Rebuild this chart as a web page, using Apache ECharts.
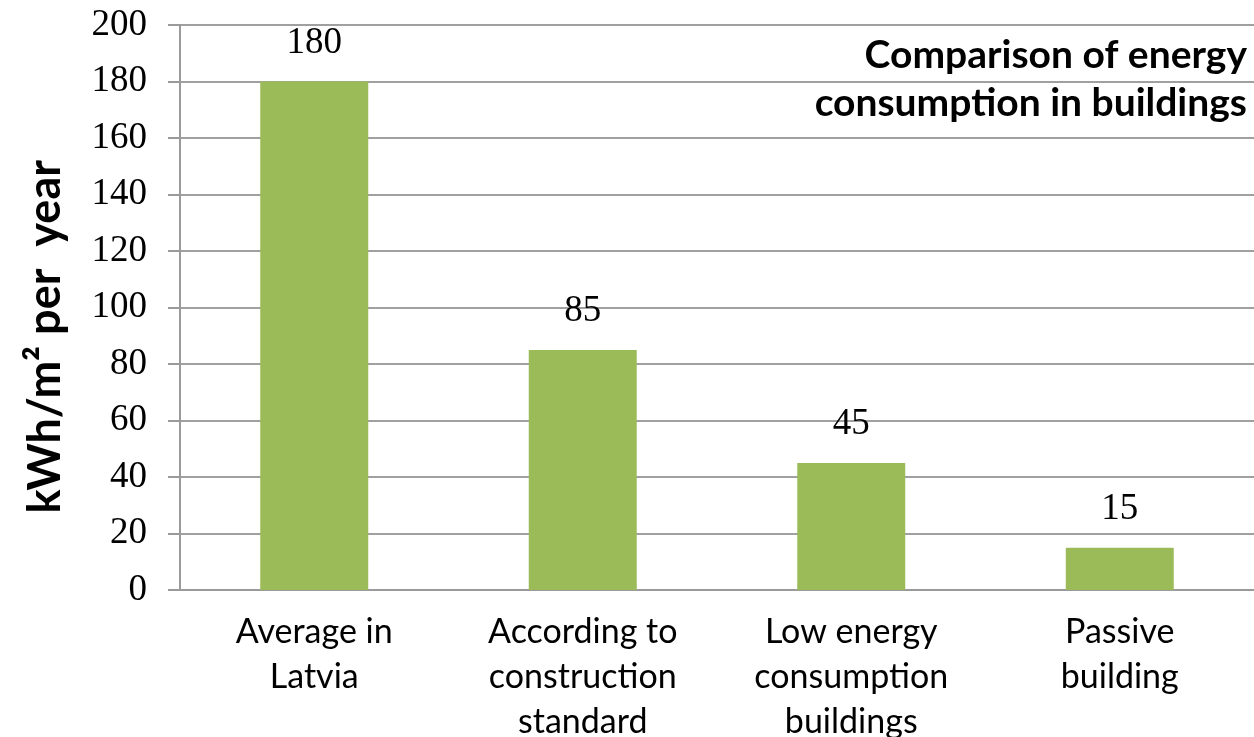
<html>
<head>
    <meta charset="utf-8" />
    <title>Energy consumption in buildings</title>
    <script src="https://cdn.jsdelivr.net/npm/echarts@6/dist/echarts.min.js"></script>
    <style>
        body { margin: 0; background: #fff; }
        #chart { width: 1254px; height: 737px; }
    </style>
</head>
<body>
    <div id="chart"></div>
    <script type="text/javascript">
        // chart data
        var categories = ['Average in\nLatvia', 'According to\nconstruction\nstandard', 'Low energy\nconsumption\nbuildings', 'Passive\nbuilding'];
        var consumption = [180, 85, 45, 15];
        var yTicks = [0, 200, 20]; // min, max, step

        var chart = echarts.init(document.getElementById('chart'));
        var option = {
            animation: false,
            grid: { left: 180, right: 0, top: 25, height: 565, outerBoundsMode: 'none' },
            graphic: [
                {
                    type: 'text',
                    right: 7,
                    top: 31,
                    style: {
                        text: 'Comparison of energy\nconsumption in buildings',
                        font: 'bold 39px Lato',
                        fill: '#000',
                        textAlign: 'right',
                        lineHeight: 48
                    }
                },
                {
                    type: 'text',
                    left: 23,
                    top: 160,
                    rotation: Math.PI / 2,
                    style: {
                        text: 'kWh/m² per  year',
                        font: 'bold 45px Lato',
                        fill: '#000'
                    }
                }
            ],
            xAxis: {
                type: 'category',
                data: categories,
                axisLine: { lineStyle: { color: '#9a9a9a', width: 2 } },
                axisTick: { show: false },
                axisLabel: {
                    fontFamily: 'Lato',
                    fontSize: 34,
                    color: '#000',
                    lineHeight: 45,
                    margin: 20,
                    interval: 0
                }
            },
            yAxis: {
                type: 'value',
                min: yTicks[0],
                max: yTicks[1],
                interval: yTicks[2],
                axisLine: { show: true, lineStyle: { color: '#9a9a9a', width: 2 } },
                axisTick: { show: true, length: 12, inside: false, lineStyle: { color: '#9a9a9a', width: 2 } },
                splitLine: { lineStyle: { color: '#a0a0a0', width: 2 } },
                axisLabel: {
                    fontFamily: 'Liberation Serif',
                    fontSize: 37,
                    color: '#000',
                    margin: 33
                }
            },
            series: [{
                type: 'bar',
                data: consumption,
                barWidth: 108,
                itemStyle: { color: '#9bbb59' },
                label: {
                    show: true,
                    position: 'top',
                    distance: 20,
                    fontFamily: 'Liberation Serif',
                    fontSize: 37,
                    color: '#000'
                }
            }]
        };
        chart.setOption(option);
    </script>
</body>
</html>
